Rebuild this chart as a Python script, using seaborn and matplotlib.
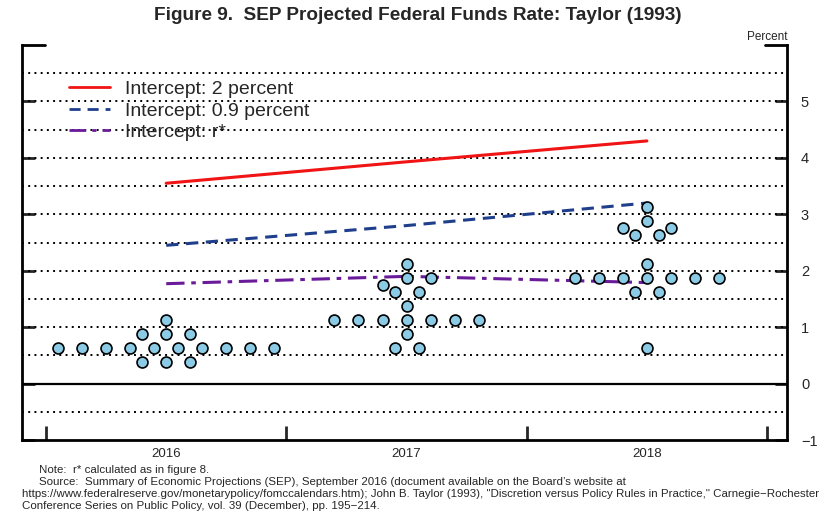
import numpy as np
import pandas as pd
import matplotlib
matplotlib.use('Agg')
import matplotlib.pyplot as plt
import seaborn as sns

sns.set_style('white')
plt.rcParams['font.family'] = ['Liberation Sans', 'DejaVu Sans']

# Policy-rule paths (percent), one point per year
rule_years = [2016, 2017, 2018]
taylor_int2 = [3.55, 3.93, 4.30]
taylor_int09 = [2.45, 2.80, 3.20]
taylor_rstar = [1.77, 1.90, 1.79]

# SEP participant dots: year, value, horizontal slot within the year
dot_year = ([2016] * 17 + [2017] * 17 + [2018] * 17)
dot_value = (
    [0.625] * 10 + [0.875] * 3 + [0.375] * 3 + [1.125]
    + [0.625] * 2 + [0.875] + [1.125] * 7 + [1.375] + [1.625] * 2 + [1.75]
    + [1.875] * 2 + [2.125]
    + [0.625] + [1.625] * 2 + [1.875] * 7 + [2.125] + [2.625] * 2
    + [2.75] * 2 + [2.875] + [3.125]
)
dot_slot = (
    [-4.5, -3.5, -2.5, -1.5, -0.5, 0.5, 1.5, 2.5, 3.5, 4.5] + [-1, 0, 1] + [-1, 0, 1] + [0]
    + [-0.5, 0.5] + [0] + [-3, -2, -1, 0, 1, 2, 3] + [0] + [-0.5, 0.5] + [-1]
    + [0, 1] + [0]
    + [0] + [-0.5, 0.5] + [-3, -2, -1, 0, 1, 2, 3] + [0] + [-0.5, 0.5]
    + [-1, 1] + [0] + [0]
)
year_labels = ['2016', '2017', '2018']

dots = pd.DataFrame({'year': dot_year, 'value': dot_value, 'slot': dot_slot})
dots['x'] = dots['year'] + dots['slot'] * 0.1

lines = pd.DataFrame({'year': rule_years * 3,
                      'rate': taylor_int2 + taylor_int09 + taylor_rstar,
                      'rule': ['Intercept: 2 percent'] * 3 + ['Intercept: 0.9 percent'] * 3
                              + ['Intercept: r*'] * 3})

fig = plt.figure(figsize=(8.36, 5.27), dpi=100)
ax = fig.add_axes([22 / 836, 87 / 527, 765 / 836, 395 / 527])
ax.set_xlim(2015.4, 2018.583)
ax.set_ylim(-1, 6)

# dotted grid at every half percent, solid zero line
for g in np.arange(-0.5, 6, 0.5):
    if g == 0:
        ax.axhline(0, color='black', lw=1.6, zorder=1)
    else:
        ax.axhline(g, color='black', lw=1.4, ls=(0, (1, 2.2)), zorder=1)

palette = {'Intercept: 2 percent': '#f01414',
           'Intercept: 0.9 percent': '#1f3f8c',
           'Intercept: r*': '#6a1b9a'}
styles = {'Intercept: 2 percent': '',
          'Intercept: 0.9 percent': (4, 2.5),
          'Intercept: r*': (6, 2.2, 1.5, 2.2)}
sns.lineplot(data=lines, x='year', y='rate', hue='rule', style='rule',
             palette=palette, dashes=styles, linewidth=2.2, ax=ax, zorder=3)

sns.scatterplot(data=dots, x='x', y='value', color='#8ccbe6', edgecolor='black',
                linewidth=1.2, s=62, ax=ax, zorder=4, legend=False)

leg = ax.legend(loc='upper left', bbox_to_anchor=(0.062, 0.91), frameon=False,
                fontsize=14, handlelength=2.1, handletextpad=0.75,
                labelspacing=0.2, borderaxespad=0, borderpad=0)
for h in leg.get_lines():
    h.set_linewidth(2.0)

ax.set_xlabel('')
ax.set_ylabel('')

# spines
ax.spines['top'].set_visible(False)
for s in ['left', 'right', 'bottom']:
    ax.spines[s].set_linewidth(2.0)
    ax.spines[s].set_color('black')

# y ticks on both sides, labels right
ax.set_yticks(np.arange(-1, 6))
ax.set_yticklabels(['\u22121', '0', '1', '2', '3', '4', '5'])
ax.tick_params(axis='y', which='major', direction='in', left=True, right=True,
               labelleft=False, labelright=True, length=9, width=2.0,
               labelsize=10.5, pad=10)

# x ticks at year boundaries, labels at year centres
ax.set_xticks([2015.5, 2016.5, 2017.5, 2018.5])
ax.set_xticklabels([])
ax.set_xticks(rule_years, minor=True)
ax.set_xticklabels(year_labels, minor=True)
ax.tick_params(axis='x', which='major', direction='in', length=10, width=2.0, bottom=True)
ax.tick_params(axis='x', which='minor', length=0, labelsize=9.5, pad=6)

# top corners
ax.plot([0, 0.03], [1, 1], transform=ax.transAxes, color='black', lw=2.0, clip_on=False)
ax.plot([0.971, 1], [1, 1], transform=ax.transAxes, color='black', lw=2.0, clip_on=False)

fig.text(787 / 836, 1 - 37 / 527, 'Percent', ha='right', va='center', fontsize=8.5)
fig.text(0.5, 1 - 16 / 527, 'Figure 9.  SEP Projected Federal Funds Rate: Taylor (1993)',
         ha='center', va='center', fontsize=13.7, fontweight='bold')

notes = [
    (39, 470, 'Note:  r* calculated as in figure 8.'),
    (39, 482, 'Source:  Summary of Economic Projections (SEP), September 2016 (document available on the Board\u2019s website at'),
    (22, 494, 'https://www.federalreserve.gov/monetarypolicy/fomccalendars.htm); John B. Taylor (1993), "Discretion versus Policy Rules in Practice," Carnegie\u2212Rochester'),
    (22, 506, 'Conference Series on Public Policy, vol. 39 (December), pp. 195\u2212214.'),
]
for nx, ny, t in notes:
    fig.text(nx / 836, 1 - ny / 527, t, ha='left', va='center', fontsize=8.25)

fig.savefig('out.png', dpi=100)
